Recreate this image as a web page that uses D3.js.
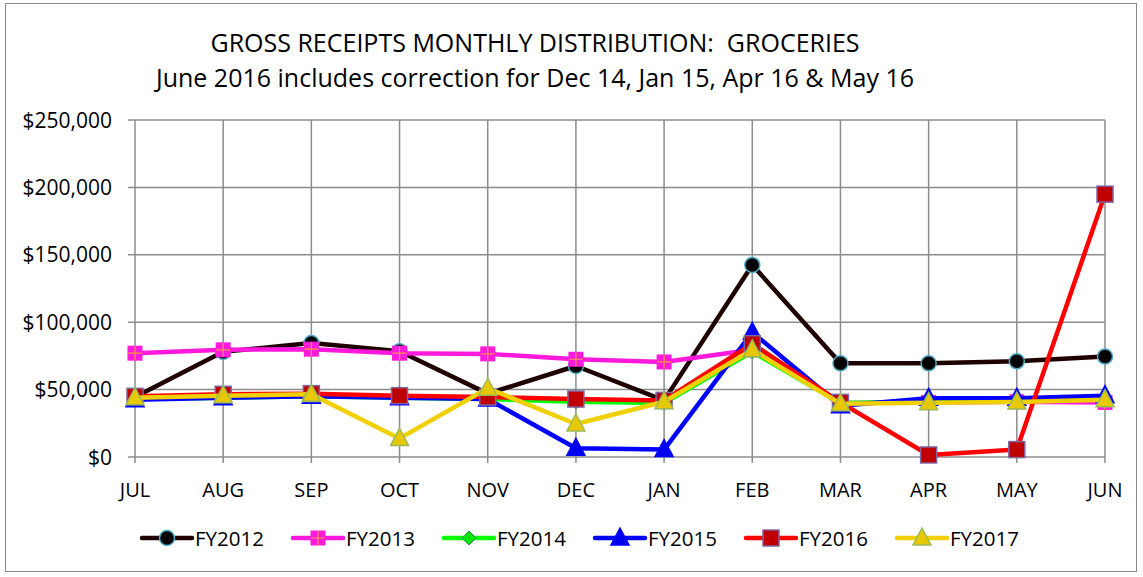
<!DOCTYPE html>
<html>
<head>
<meta charset="utf-8">
<script src="https://cdn.jsdelivr.net/npm/d3@7"></script>
<style>
  body { margin: 0; background: #fff; }
  text { font-family: "Open Sans", "Noto Sans", sans-serif; fill: #000; white-space: pre; }
</style>
</head>
<body>
<svg id="chart" width="1143" height="577"></svg>
<script>
// month categories (fiscal year order)
const months = ['JUL', 'AUG', 'SEP', 'OCT', 'NOV', 'DEC', 'JAN', 'FEB', 'MAR', 'APR', 'MAY', 'JUN']
const yTicks = [0, 50000, 100000, 150000, 200000, 250000]

// values
const fy2012 = [44500, 78000, 84500, 78500, 47000, 67500, 42000, 142500, 69500, 69500, 71000, 74500]
const fy2013 = [77000, 79500, 80000, 77000, 76500, 72500, 70500, 79500, 40000, 40500, 41000, 40500]
const fy2014 = [43000, 44000, 45000, 44000, 43000, 41000, 40000, 78000, 40000, 41000, 42000, 44000]
const fy2015 = [42500, 44000, 45000, 44000, 43000, 6500, 5500, 92500, 38000, 43500, 43500, 45500]
const fy2016 = [45000, 46500, 47000, 45500, 44500, 43000, 42000, 84000, 40500, 1500, 5500, 195000]
const fy2017 = [44000, 45500, 46500, 13800, 51000, 24500, 41000, 79500, 39500, 40300, 40800, 42500]

const series = [
    { name: 'FY2012', values: fy2012, line: '#1f0000', marker: 'circle', fill: '#000', stroke: '#4bacc6' },
    { name: 'FY2013', values: fy2013, line: '#ff19dc', marker: 'plus', fill: '#ff19dc', stroke: '#f79646' },
    { name: 'FY2014', values: fy2014, line: '#00ff00', marker: 'diamond', fill: '#00e600', stroke: '#2e8b57' },
    { name: 'FY2015', values: fy2015, line: '#0000ff', marker: 'triangle', fill: '#0000ee', stroke: '#0000ff' },
    { name: 'FY2016', values: fy2016, line: '#ff0000', marker: 'square', fill: '#c00000', stroke: '#8064a2' },
    { name: 'FY2017', values: fy2017, line: '#f0d000', marker: 'triangle', fill: '#e8c800', stroke: '#9bbb59' }
]

const svg = d3.select('#chart')
const width = +svg.attr('width')
const height = +svg.attr('height')

const margin = { left: 135, right: 38, top: 120, bottom: 120 }

// outer border
svg.append('rect')
    .attr('x', 5.5).attr('y', 3.5)
    .attr('width', 1131).attr('height', 568)
    .attr('fill', 'none')
    .attr('stroke', '#888')
    .attr('stroke-width', 1)

// title
svg.append('text')
    .attr('x', 535).attr('y', 52)
    .attr('text-anchor', 'middle')
    .style('font-size', '25px')
    .text('GROSS RECEIPTS MONTHLY DISTRIBUTION:  GROCERIES')
svg.append('text')
    .attr('x', 535).attr('y', 87)
    .attr('text-anchor', 'middle')
    .style('font-size', '25px')
    .text('June 2016 includes correction for Dec 14, Jan 15, Apr 16 & May 16')

const x = d3.scalePoint()
    .domain(months)
    .range([margin.left, width - margin.right])

const y = d3.scaleLinear()
    .domain([0, 250000])
    .range([457, margin.top])

// grid
const grid = svg.append('g')
grid.selectAll('.hgrid')
    .data(yTicks)
    .join('line')
    .attr('x1', margin.left - 7).attr('x2', x('JUN'))
    .attr('y1', d => y(d)).attr('y2', d => y(d))
    .attr('stroke', '#8c8c8c').attr('stroke-width', 1.5)
grid.selectAll('.vgrid')
    .data(months)
    .join('line')
    .attr('x1', d => x(d)).attr('x2', d => x(d))
    .attr('y1', y(250000)).attr('y2', y(0) + 6)
    .attr('stroke', '#8c8c8c').attr('stroke-width', 1.5)

// axis labels
svg.append('g').selectAll('text')
    .data(yTicks)
    .join('text')
    .attr('x', 112)
    .attr('y', d => y(d) + 7.5)
    .attr('text-anchor', 'end')
    .style('font-size', '21px')
    .text(d => '$' + d3.format(',')(d))

svg.append('g').selectAll('text')
    .data(months)
    .join('text')
    .attr('x', d => x(d))
    .attr('y', 497)
    .attr('text-anchor', 'middle')
    .style('font-size', '20px')
    .text(d => d)

function drawMarker(g, s) {
    if (s.marker === 'circle') {
        g.append('circle').attr('r', 7.5)
            .attr('fill', s.fill).attr('stroke', s.stroke).attr('stroke-width', 1.5)
    } else if (s.marker === 'plus') {
        g.append('rect').attr('x', -7.5).attr('y', -7.5).attr('width', 15).attr('height', 15)
            .attr('fill', s.fill)
        g.append('path').attr('d', 'M-7,0H7M0,-7V7')
            .attr('stroke', s.stroke).attr('stroke-width', 1.2)
    } else if (s.marker === 'diamond') {
        g.append('path').attr('d', 'M0,-7L7,0L0,7L-7,0Z')
            .attr('fill', s.fill).attr('stroke', s.stroke).attr('stroke-width', 1)
    } else if (s.marker === 'triangle') {
        g.append('path').attr('d', 'M0,-10L9,7L-9,7Z')
            .attr('fill', s.fill).attr('stroke', s.stroke).attr('stroke-width', 1.5)
    } else if (s.marker === 'square') {
        g.append('rect').attr('x', -8).attr('y', -8).attr('width', 16).attr('height', 16)
            .attr('fill', s.fill).attr('stroke', s.stroke).attr('stroke-width', 1.5)
    }
}

const line = d3.line()
    .x((d, i) => x(months[i]))
    .y(d => y(d))

series.forEach(s => {
    const g = svg.append('g').attr('class', 'series')
    g.append('path')
        .datum(s.values)
        .attr('d', line)
        .attr('fill', 'none')
        .attr('stroke', s.line)
        .attr('stroke-width', 4.5)
        .attr('stroke-linejoin', 'round')
    g.selectAll('.pt')
        .data(s.values)
        .join('g')
        .attr('class', 'pt')
        .attr('transform', (d, i) => `translate(${x(months[i])},${y(d)})`)
        .each(function () { drawMarker(d3.select(this), s) })
})

// legend
const legend = svg.append('g')
series.forEach((s, i) => {
    const lx = 142 + i * 151
    const ly = 538
    const item = legend.append('g').attr('transform', `translate(${lx},${ly})`)
    item.append('line')
        .attr('x1', 0).attr('x2', 50)
        .attr('stroke', s.line).attr('stroke-width', 4.5)
        .attr('stroke-linecap', 'round')
    drawMarker(item.append('g').attr('transform', 'translate(25,0)'), s)
    item.append('text')
        .attr('x', 53).attr('y', 7.5)
        .style('font-size', '20.5px')
        .text(s.name)
})
</script>
</body>
</html>
